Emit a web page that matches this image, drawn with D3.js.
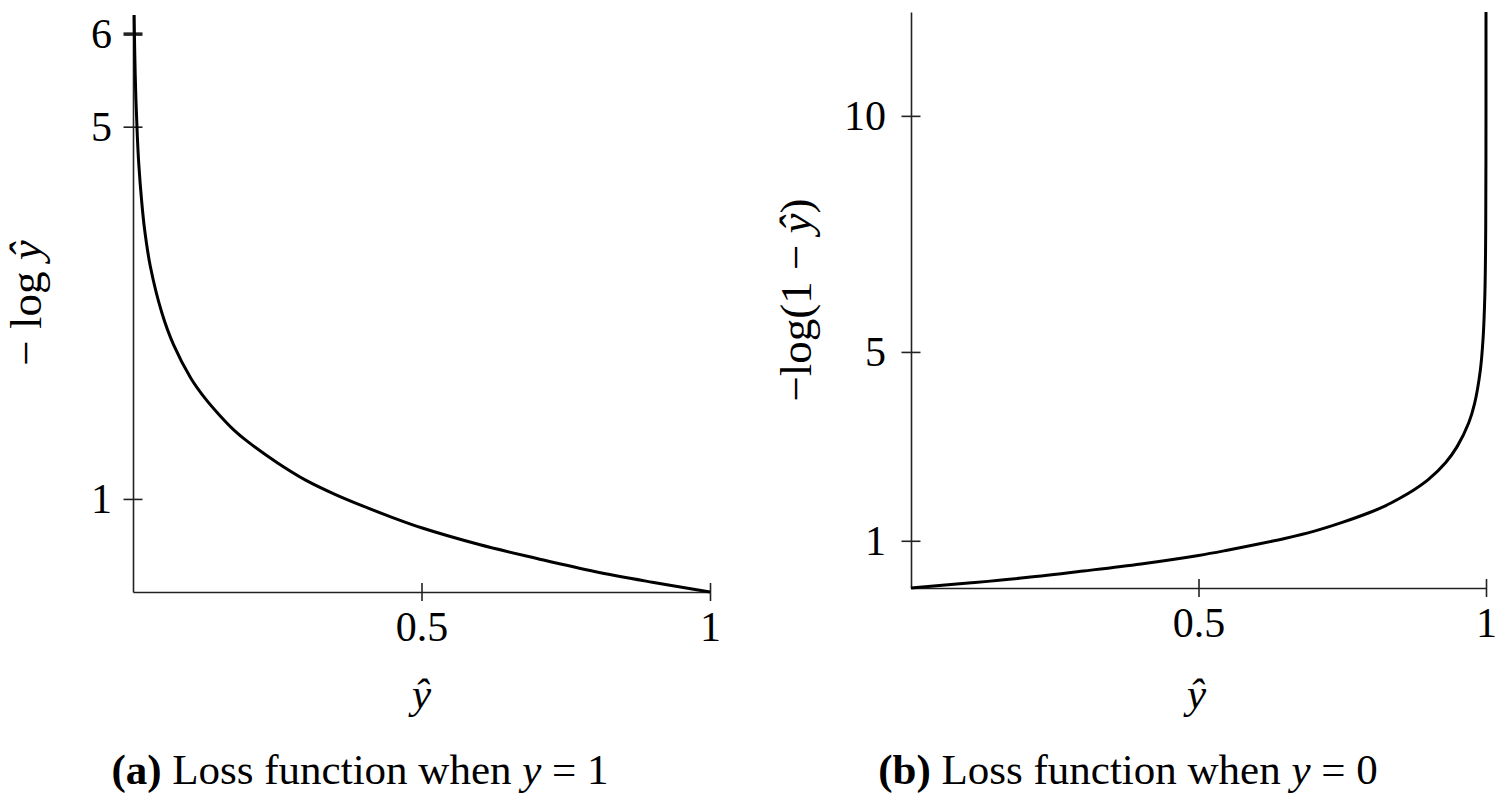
<!DOCTYPE html>
<html>
 <head>
  <meta charset="utf-8" />
  <title>Loss functions</title>
  <script src="https://cdn.jsdelivr.net/npm/d3@7"></script>
  <style>
    body { margin: 0; background: #fff; }
    text { font-family: "Liberation Serif", "DejaVu Serif", serif; fill: #000; }
  </style>
 </head>

 <body>
  <script>
    // values: predicted y-hat and the loss drawn above it
    var yhatA = [0.002, 0.003, 0.005, 0.0075, 0.01, 0.015, 0.02, 0.03, 0.05, 0.07,
                 0.1, 0.125, 0.15, 0.175, 0.2, 0.25, 0.3, 0.35, 0.4, 0.45, 0.5,
                 0.6, 0.7, 0.8, 0.9, 1.0];
    var lossA = [6.2, 5.8, 5.3, 4.9, 4.6, 4.2, 3.9, 3.5, 3.0, 2.66,
                 2.3, 2.08, 1.9, 1.74, 1.61, 1.39, 1.2, 1.05, 0.92, 0.8, 0.69,
                 0.51, 0.36, 0.22, 0.105, 0];

    var yhatB = [0, 0.1, 0.2, 0.3, 0.4, 0.5, 0.55, 0.6, 0.65, 0.7, 0.75, 0.8, 0.825,
                 0.85, 0.875, 0.9, 0.93, 0.95, 0.97, 0.98, 0.99, 0.995, 0.998, 0.999,
                 0.9995, 0.9999, 0.99999, 0.999995];
    var lossB = [0, 0.105, 0.22, 0.36, 0.51, 0.69, 0.8, 0.92, 1.05, 1.2, 1.39, 1.61, 1.74,
                 1.9, 2.08, 2.3, 2.66, 3.0, 3.5, 3.9, 4.6, 5.3, 6.2, 6.9,
                 7.6, 9.2, 11.5, 12.2];

    var xTicks  = [0.5, 1],
        yTicksA = [1, 5, 6],
        yTicksB = [1, 5, 10];

    var captionA = "Loss function when ",
        captionB = "Loss function when ";

    var fmt = d3.format("~g");

    var svg = d3.select("body")
      .append("svg")
        .attr("width", 1512)
        .attr("height", 804);

    function panel(o) {
      var x = d3.scaleLinear().domain([0, 1]).range([o.x0, o.x1]),
          y = d3.scaleLinear().domain([0, o.yMax]).range([o.y0, o.y1]);

      var g = svg.append("g");

      var xa = g.append("g")
          .attr("transform", "translate(0," + o.y0 + ")")
          .call(d3.axisBottom(x).tickValues(xTicks).tickSize(0).tickSizeOuter(0)
                 .tickPadding(19).tickFormat(fmt));
      xa.selectAll(".tick line").attr("y1", -9).attr("y2", 9);

      var ya = g.append("g")
          .attr("transform", "translate(" + o.x0 + ",0)")
          .call(d3.axisLeft(y).tickValues(o.yTicks).tickSize(0).tickSizeOuter(0)
                 .tickPadding(o.pad).tickFormat(fmt));
      ya.selectAll(".tick line").attr("x1", -9.5).attr("x2", 9.5);

      [xa, ya].forEach(function(a) {
        a.attr("font-family", null).attr("font-size", null);
        a.selectAll("path, line").attr("stroke", "#222").attr("stroke-width", 1.6);
        a.selectAll("text").style("font-size", "42px");
      });
      ya.selectAll(".tick line")
        .filter(function(d) { return d === o.thick; })
        .attr("stroke-width", 3.5);

      var pts = o.xs.map(function(v, i) { return [v, o.ys[i]]; });
      g.append("path")
        .datum(pts)
        .attr("fill", "none")
        .attr("stroke", "#000")
        .attr("stroke-width", 3)
        .attr("stroke-linejoin", "round")
        .attr("d", d3.line()
          .x(function(d) { return x(d[0]); })
          .y(function(d) { return y(d[1]); })
          .curve(d3.curveCatmullRom.alpha(0.5)));

      // y label, rotated
      var yl = g.append("text")
        .attr("transform", "translate(" + o.ylx + "," + o.yly + ") rotate(-90)")
        .attr("text-anchor", "middle")
        .style("font-size", "45px");
      o.ylabel.forEach(function(p) {
        yl.append("tspan").style("font-style", p[1] ? "italic" : "normal").text(p[0]);
      });

      g.append("text")
        .attr("x", (x(0) + x(1)) / 2 + o.hatDx)
        .attr("y", 708)
        .attr("text-anchor", "middle")
        .style("font-size", "43px")
        .style("font-style", "italic")
        .text("ŷ");

      var cap = g.append("text")
        .attr("x", o.capX)
        .attr("y", 784)
        .attr("text-anchor", "middle")
        .style("font-size", "43px");
      cap.append("tspan").style("font-weight", "bold").text(o.tag + " ");
      cap.append("tspan").text(o.caption);
      cap.append("tspan").style("font-style", "italic").text("y");
      cap.append("tspan").text(" = " + o.capVal);
    }

    panel({ x0: 133, x1: 710, y0: 592, y1: 15, yMax: 6.2,
            xs: yhatA, ys: lossA, yTicks: yTicksA, pad: 21, thick: 6,
            ylabel: [["− log ", false], ["ŷ", true]], ylx: 41, yly: 303,
            hatDx: 0, capX: 360, tag: "(a)", caption: captionA, capVal: "1" });

    panel({ x0: 911, x1: 1486, y0: 588, y1: 12, yMax: 12.2,
            xs: yhatB, ys: lossB, yTicks: yTicksB, pad: 25, thick: null,
            ylabel: [["−log(1 − ", false], ["ŷ", true], [")", false]], ylx: 811, yly: 300,
            hatDx: -2, capX: 1128, tag: "(b)", caption: captionB, capVal: "0" });
  </script>
 </body>
</html>
